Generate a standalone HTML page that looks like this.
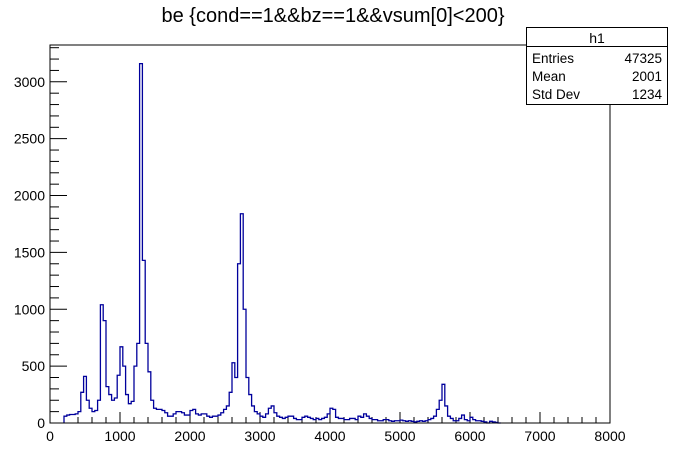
<!DOCTYPE html>
<html><head><meta charset="utf-8"><style>
body{margin:0;background:#fff;}
svg{display:block;font-family:"Liberation Sans",Arial,sans-serif;}
</style></head><body>
<svg id="c" width="677" height="455">
<text x="333" y="22" font-size="20" text-anchor="middle">be {cond==1&amp;&amp;bz==1&amp;&amp;vsum[0]&lt;200}</text>
<g id="axes"></g>
<path id="hist" fill="none" stroke="#00009c" stroke-width="1.3"/>
<rect x="50" y="45" width="560" height="378" fill="none" stroke="#000" stroke-width="1"/>
<g>
<rect x="526.5" y="27.5" width="141" height="77" fill="#fff" stroke="#000"/>
<line x1="526.5" y1="46.5" x2="667.5" y2="46.5" stroke="#000"/>
<text x="597" y="43" font-size="14" text-anchor="middle">h1</text>
<text x="532" y="63" font-size="13.5">Entries</text><text x="662" y="63" font-size="13.5" text-anchor="end">47325</text>
<text x="532" y="81" font-size="13.5">Mean</text><text x="662" y="81" font-size="13.5" text-anchor="end">2001</text>
<text x="532" y="99" font-size="13.5">Std Dev</text><text x="662" y="99" font-size="13.5" text-anchor="end">1234</text>
</g>
</svg>
<script>
const binStart = 200;
const binWidth = 40;
const counts = [60,70,75,75,80,100,270,410,200,130,100,110,200,1040,900,320,250,200,220,420,670,500,250,170,190,500,700,3160,1430,700,450,200,130,120,120,110,90,60,60,80,100,100,90,70,70,110,120,80,70,80,80,60,50,60,60,70,90,120,150,270,530,400,1400,1840,1000,400,250,150,100,80,60,50,80,130,150,90,60,50,40,50,60,60,40,30,30,50,60,50,40,30,40,30,40,50,80,130,120,50,40,40,30,30,40,40,30,60,50,80,60,40,30,30,20,20,30,30,20,15,20,20,25,20,15,20,15,10,15,20,15,20,30,40,60,120,200,340,150,60,40,20,20,40,70,30,20,50,30,20,20,15,10,0,15,10,5,0];
const xTicks = [0,1000,2000,3000,4000,5000,6000,7000,8000];
const yTicks = [0,500,1000,1500,2000,2500,3000];
const X = v => 50 + v * 560 / 8000;
const Y = v => 423 - v * 0.11373;
const ns = "http://www.w3.org/2000/svg";
const ax = document.getElementById('axes');
function line(x1,y1,x2,y2){const l=document.createElementNS(ns,'line');l.setAttribute('x1',x1);l.setAttribute('y1',y1);l.setAttribute('x2',x2);l.setAttribute('y2',y2);l.setAttribute('stroke','#000');ax.appendChild(l);return l;}
for(let v=0;v<=8000;v+=200){const major=v%1000===0;const t=line(X(v),423,X(v),423-(major?11:6));

}
for(let v=0;v<=3300;v+=100){const major=v%500===0;const t=line(50,Y(v),50+(major?17:9),Y(v));

}
xTicks.forEach(v=>{const t=document.createElementNS(ns,'text');t.setAttribute('x',X(v));t.setAttribute('y',441);t.setAttribute('font-size','14');t.setAttribute('text-anchor','middle');t.textContent=v;


ax.appendChild(t);});
yTicks.forEach(v=>{const t=document.createElementNS(ns,'text');t.setAttribute('x',45);t.setAttribute('y',Y(v)+5);t.setAttribute('font-size','14');t.setAttribute('text-anchor','end');t.textContent=v;


ax.appendChild(t);});
let d='M'+X(binStart)+' '+Y(0);
counts.forEach((c,i)=>{const x0=X(binStart+i*binWidth),x1=X(binStart+(i+1)*binWidth);d+=' L'+x0+' '+Y(c)+' L'+x1+' '+Y(c);});
d+=' L'+X(binStart+counts.length*binWidth)+' '+Y(0);
document.getElementById('hist').setAttribute('d',d);
</script>
</body></html>
